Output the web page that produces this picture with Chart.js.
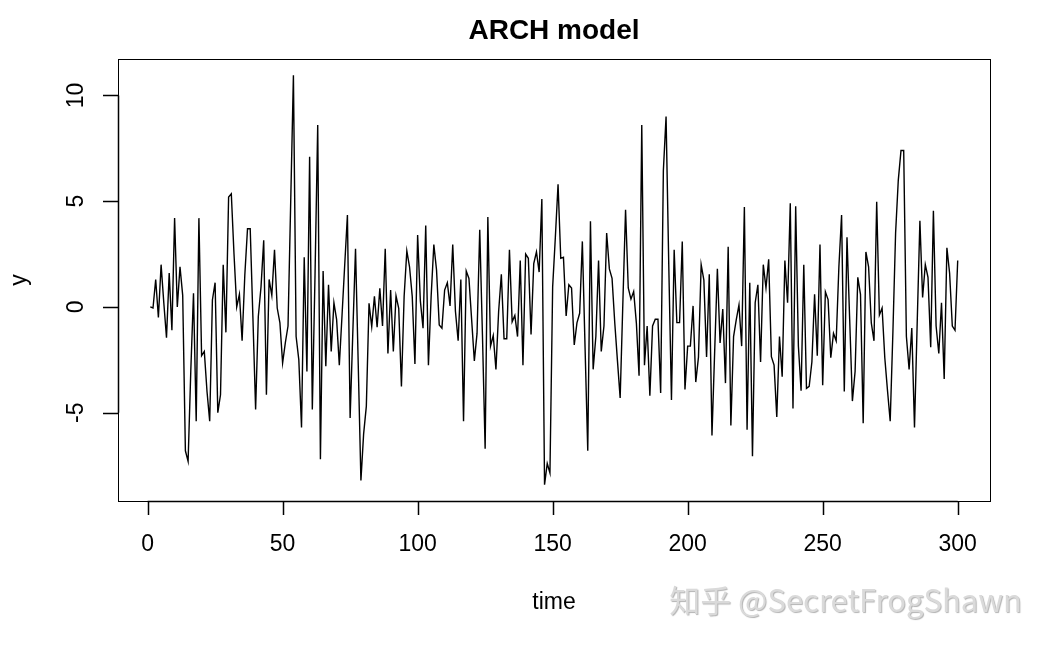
<!DOCTYPE html>
<html>
<head>
<meta charset="utf-8">
<script src="https://cdn.jsdelivr.net/npm/chart.js@4"></script>
<style>
  html, body { margin: 0; padding: 0; background: #fff; }
  #wrap { width: 1050px; height: 648px; }
</style>
</head>
<body>
<div id="wrap"><canvas id="graficoArch" width="1050" height="648"></canvas></div>
<script>
// simulated ARCH series (t = 1..300)
const yValues = [
  0.0, -0.05, 1.3, -0.5, 2.0, 0.2, -1.45, 1.6, -1.1, 4.2,
  0.0, 1.9, 0.55, -6.8, -7.3, -3.0, 0.65, -5.4, 4.2, -2.3,
  -2.1, -4.0, -5.4, 0.33, 1.15, -5.0, -4.15, 2.0, -1.2, 5.2,
  5.35, 2.5, 0.0, 0.6, -1.6, 1.5, 3.7, 3.7, -0.5, -4.85,
  -0.45, 0.95, 3.15, -4.15, 1.3, 0.55, 2.7, -0.05, -0.75, -2.65,
  -1.7, -0.9, 5.0, 10.95, -1.4, -2.5, -5.7, 2.35, -3.05, 7.1,
  -4.85, 1.5, 8.6, -7.2, 1.7, -2.8, 1.05, -2.1, 0.2, -0.6,
  -2.75, -0.4, 2.0, 4.35, -5.25, -1.2, 2.75, -2.7, -8.2, -6.0,
  -4.7, 0.17, -0.93, 0.5, -0.96, 0.88, -0.9, 2.75, -2.2, 0.8,
  -2.1, 0.53, -0.06, -3.76, 0.5, 2.65, 1.9, 0.5, -2.7, 3.4,
  0.3, -1.0, 3.85, -2.75, 0.5, 2.95, 1.75, -0.85, -1.0, 0.8,
  1.15, 0.05, 2.95, -0.2, -1.6, 1.3, -5.4, 1.7, 1.35, -0.6,
  -2.55, -1.25, 3.65, -1.3, -6.7, 4.25, -1.85, -1.35, -2.95, -0.2,
  1.55, -1.5, -1.5, 2.7, -0.7, -0.4, -1.4, 2.2, -2.75, 2.5,
  2.3, -1.3, 2.05, 2.6, 1.65, 5.1, -8.4, -7.4, -7.85, 0.95,
  3.3, 5.8, 2.3, 2.35, -0.42, 1.05, 0.9, -1.8, -0.75, -0.3,
  3.1, -1.9, -6.8, 4.05, -2.95, -1.4, 2.2, -2.1, -0.9, 3.5,
  1.8, 1.35, -0.75, -2.55, -4.3, 0.2, 4.6, 0.9, 0.37, 0.73,
  -0.75, -3.25, 8.6, -2.75, -0.9, -4.2, -0.9, -0.58, -0.58, -4.07,
  6.45, 9.0, 2.0, -4.4, 2.7, -0.74, -0.74, 3.1, -3.9, -1.85,
  -1.85, 0.05, -3.55, -2.37, 2.0, 1.27, -2.37, 1.55, -6.08, -2.1,
  1.8, -1.7, -0.1, -3.6, 2.85, -5.6, -1.4, -0.6, 0.1, -1.85,
  4.73, -5.8, 1.15, -7.06, 0.2, 1.05, -2.6, 2.0, 0.9, 2.25,
  -2.35, -2.75, -5.2, -1.4, -3.3, 2.2, 0.2, 4.9, -4.8, 4.76,
  -1.85, -3.96, 2.0, -3.85, -3.75, -2.6, 0.6, -2.3, 2.95, -3.7,
  0.72, 0.35, -2.4, -1.25, -1.6, 1.9, 4.35, -4.0, 3.3, -0.6,
  -4.45, -3.05, 1.4, 0.6, -5.5, 2.6, 1.9, -0.75, -1.6, 4.97,
  -0.38, -0.05, -2.4, -3.95, -5.4, -1.2, 3.5, 6.0, 7.4, 7.4,
  -1.4, -2.95, -1.0, -5.7, -0.75, 4.07, 0.45, 2.0, 1.4, -1.9,
  4.55, -0.9, -2.2, 0.2, -3.4, 2.8, 1.6, -0.9, -1.1, 2.2
];
const timeIdx = yValues.map((v, i) => i + 1);
const xTicks = [0, 50, 100, 150, 200, 250, 300];
const yTicks = [-5, 0, 5, 10];

const titulo = 'ARCH model';
const xTitulo = 'time';
const yTitulo = 'y';
const marcaDagua = '知乎 @SecretFrogShawn';

// R pads the data range by 4% on each side
const xMin = Math.min(...timeIdx), xMax = Math.max(...timeIdx);
const yMin = Math.min(...yValues), yMax = Math.max(...yValues);
const xPad = (xMax - xMin) * 0.04, yPad = (yMax - yMin) * 0.04;

const FONTE = "'Liberation Sans', Arial, sans-serif";

// box, axes, labels drawn R-style
const eixosR = {
  id: 'eixosR',
  afterDraw(chart) {
    const c = chart.ctx;
    const a = chart.chartArea;
    const sx = chart.scales.x, sy = chart.scales.y;
    c.save();
    c.strokeStyle = '#000';
    c.fillStyle = '#000';

    c.lineWidth = 1;
    c.strokeRect(a.left + 0.5, a.top + 0.5, a.right - a.left, a.bottom - a.top);

    // x axis
    c.lineWidth = 1.5;
    c.beginPath();
    c.moveTo(sx.getPixelForValue(xTicks[0]), a.bottom + 0.5);
    c.lineTo(sx.getPixelForValue(xTicks[xTicks.length - 1]), a.bottom + 0.5);
    xTicks.forEach(t => {
      const px = Math.round(sx.getPixelForValue(t)) + 0.5;
      c.moveTo(px, a.bottom);
      c.lineTo(px, a.bottom + 14);
    });
    c.stroke();
    c.font = '23px ' + FONTE;
    c.textAlign = 'center';
    c.textBaseline = 'middle';
    xTicks.forEach(t => c.fillText(String(t), sx.getPixelForValue(t), 545));

    // y axis
    c.beginPath();
    c.moveTo(a.left + 0.5, sy.getPixelForValue(yTicks[0]));
    c.lineTo(a.left + 0.5, sy.getPixelForValue(yTicks[yTicks.length - 1]));
    yTicks.forEach(t => {
      const py = Math.round(sy.getPixelForValue(t)) + 0.5;
      c.moveTo(a.left, py);
      c.lineTo(a.left - 15, py);
    });
    c.stroke();
    yTicks.forEach(t => {
      c.save();
      c.translate(77, sy.getPixelForValue(t));
      c.rotate(-Math.PI / 2);
      c.fillText(String(t), 0, 0);
      c.restore();
    });

    // titles
    c.font = 'bold 28px ' + FONTE;
    c.fillText(titulo, (a.left + a.right) / 2, 31);
    c.font = '23px ' + FONTE;
    c.fillText(xTitulo, (a.left + a.right) / 2, 603);
    c.save();
    c.translate(20, (a.top + a.bottom) / 2);
    c.rotate(-Math.PI / 2);
    c.fillText(yTitulo, 0, 0);
    c.restore();

    // watermark
    c.font = "31px 'Noto Sans CJK SC', 'Noto Sans', sans-serif";
    c.textAlign = 'right';
    c.textBaseline = 'alphabetic';
    c.shadowColor = 'rgba(0,0,0,0.3)';
    c.shadowOffsetX = 1;
    c.shadowOffsetY = 1;
    c.shadowBlur = 1;
    c.fillStyle = '#dadada';
    c.fillText(marcaDagua, 1022, 612);
    c.restore();
  }
};

const ctx = document.getElementById('graficoArch');

new Chart(ctx, {
  type: 'line',
  data: {
    labels: timeIdx,
    datasets: [
      {
        label: 'y',
        data: timeIdx.map((t, i) => ({ x: t, y: yValues[i] })),
        borderColor: '#000',
        borderWidth: 1.4,
        pointRadius: 0,
        tension: 0,
        fill: false,
      },
    ]
  },
  options: {
    responsive: false,
    animation: false,
    layout: {
      padding: { left: 118, top: 59, right: 60, bottom: 147 }
    },
    plugins: {
      legend: { display: false },
      tooltip: { enabled: false }
    },
    scales: {
      x: {
        type: 'linear',
        display: false,
        min: xMin - xPad,
        max: xMax + xPad
      },
      y: {
        display: false,
        min: yMin - yPad,
        max: yMax + yPad
      }
    }
  },
  plugins: [eixosR]
});
</script>
</body>
</html>
